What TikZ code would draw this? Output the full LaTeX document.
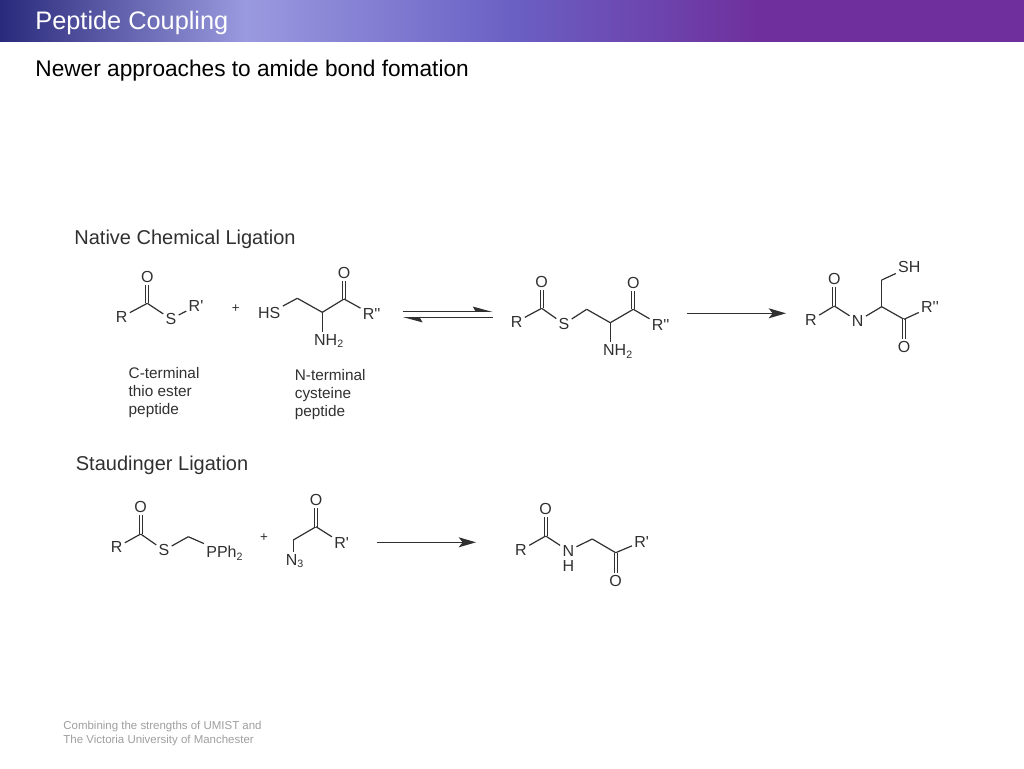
\documentclass[tikz,border=0pt]{standalone}
\usepackage{fontspec}
\newfontfamily\slidefont{Liberation Sans}
\usetikzlibrary{arrows.meta}

\definecolor{barDark}{HTML}{2A2A7C}
\definecolor{barLight}{HTML}{9A9ADF}
\definecolor{barMid}{HTML}{6A60C4}
\definecolor{barEnd}{HTML}{6F2F9C}
\definecolor{inkGray}{HTML}{303030}

\begin{document}
\begin{tikzpicture}[x=.75pt, y=-.75pt, semithick]

%====Styles=================================================================

	\tikzstyle{atom}=[font=\slidefont\fontsize{12}{14}\selectfont, inner sep=1.5pt, text=inkGray]
	\tikzstyle{heading}=[font=\slidefont\fontsize{15}{18}\selectfont, anchor=west, inner sep=0pt, text=inkGray]
	\tikzstyle{caption}=[font=\slidefont\fontsize{11.5}{13.5}\selectfont, anchor=west, align=left, inner sep=0pt, text=inkGray]
	\tikzstyle{sign}=[font=\slidefont\fontsize{10}{12}\selectfont, inner sep=0pt, text=inkGray]
	\tikzstyle{bond}=[draw=inkGray, line width=.9pt]
	\tikzstyle{dbl}=[draw=inkGray, line width=.8pt, double=white, double distance=1.6pt]
	\tikzstyle{reaction}=[draw=inkGray, line width=1pt, -{Stealth[length=13pt, width=7.5pt, inset=3pt]}]
	\tikzstyle{harpoon}=[draw=inkGray, line width=1pt, -{Stealth[harpoon, length=13pt, width=7pt, inset=2pt]}]

	\useasboundingbox (0,0) rectangle (1024,768);

%====Header bar=============================================================

	\shade[left color=barDark, right color=barLight] 	(0,0) rectangle (245.5,41.2);
	\shade[left color=barLight, right color=barMid] 	(245,0) rectangle (512.5,41.2);
	\shade[left color=barMid, right color=barEnd] 		(512,0) rectangle (762.5,41.2);
	\fill[barEnd] 										(762,0) rectangle (1024,42);

	\node[font=\slidefont\fontsize{19}{22}\selectfont, text=white, anchor=west, inner sep=0pt] 	(title) at (35,22.5) {Peptide Coupling};
	\node[font=\slidefont\fontsize{17}{20}\selectfont, text=black, anchor=west, inner sep=0pt] 	(subtitle) at (35,70.5) {Newer approaches to amide bond fomation};
	\node[font=\slidefont\fontsize{8.6}{10.5}\selectfont, text=black!38, anchor=west, align=left, inner sep=0pt] 	(footer) at (63,733.5) {Combining the strengths of UMIST and\\The Victoria University of Manchester};

%====Native Chemical Ligation================================================

	\node[heading] 	(nclTitle) at (74,239) {Native Chemical Ligation};

	% thio ester
	\coordinate 		(C1) at (147.3,303.3);
	\node[atom] 		(R1) at (121.7,317) {R};
	\node[atom] 		(O1) at (147.3,276.7) {O};
	\node[atom] 		(S1) at (171,319) {S};
	\node[atom] 		(Ra) at (196,306) {R'};
	\node[sign] 		(plusA) at (235.7,309) {+};
	\node[caption] 	(capA) at (128.3,392.2) {C-terminal\\thio ester\\peptide};

	% cysteine
	\node[atom] 		(HS2) at (269.3,313.3) {HS};
	\coordinate 		(C2) at (297.3,298.3);
	\coordinate 		(C3) at (322.3,312.3);
	\coordinate 		(C4) at (344,299);
	\node[atom] 		(O2) at (344,272.7) {O};
	\node[atom] 		(Rb) at (371.7,314.3) {R''};
	\node[atom] 		(N2) at (329,341) {NH\textsubscript{2}};
	\node[caption] 	(capB) at (294.5,394.2) {N-terminal\\cysteine\\peptide};

	% thio ester intermediate
	\node[atom] 		(R3) at (516.7,321.7) {R};
	\coordinate 		(C5) at (541.7,308.3);
	\node[atom] 		(O3) at (541.7,281.7) {O};
	\node[atom] 		(S3) at (564,324) {S};
	\coordinate 		(C6) at (586.7,309.3);
	\coordinate 		(C7) at (610.3,322.7);
	\coordinate 		(C8) at (633.3,309.3);
	\node[atom] 		(O4) at (633.3,282.7) {O};
	\node[atom] 		(Rc) at (660.7,325.3) {R''};
	\node[atom] 		(N3) at (618,351.5) {NH\textsubscript{2}};

	% amide product
	\node[atom] 		(R4) at (811,320) {R};
	\coordinate 		(C9) at (834.3,306);
	\node[atom] 		(O5) at (834.3,279.3) {O};
	\node[atom] 		(N4) at (857.7,321) {N};
	\coordinate 		(C10) at (881.7,306.7);
	\coordinate 		(C11) at (881.7,280);
	\node[atom] 		(SH4) at (909.3,267.3) {SH};
	\coordinate 		(C12) at (904,319.3);
	\node[atom] 		(O6) at (904,347.3) {O};
	\node[atom] 		(Rd) at (930,307.3) {R''};

	% arrows
	\coordinate 		(eqA) at (402.7,311.3);
	\coordinate 		(eqB) at (492.7,311.3);
	\coordinate 		(eqC) at (492.7,317.7);
	\coordinate 		(eqD) at (402.7,317.7);
	\coordinate 		(arA) at (687.3,313.3);
	\coordinate 		(arB) at (786,313.3);

	\draw[bond] (R1) -- (C1);
	\draw[dbl] 	(C1) -- (O1);
	\draw[bond] (C1) -- (S1);
	\draw[bond] (S1) -- (Ra);

	\draw[bond] (HS2) -- (C2);
	\draw[bond] (C2) -- (C3);
	\draw[bond] (C3) -- (C4);
	\draw[dbl] 	(C4) -- (O2);
	\draw[bond] (C4) -- (Rb);
	\draw[bond] (C3) -- (C3 |- N2.north);

	\draw[bond] (R3) -- (C5);
	\draw[dbl] 	(C5) -- (O3);
	\draw[bond] (C5) -- (S3);
	\draw[bond] (S3) -- (C6);
	\draw[bond] (C6) -- (C7);
	\draw[bond] (C7) -- (C8);
	\draw[dbl] 	(C8) -- (O4);
	\draw[bond] (C8) -- (Rc);
	\draw[bond] (C7) -- (C7 |- N3.north);

	\draw[bond] (R4) -- (C9);
	\draw[dbl] 	(C9) -- (O5);
	\draw[bond] (C9) -- (N4);
	\draw[bond] (N4) -- (C10);
	\draw[bond] (C10) -- (C11);
	\draw[bond] (C11) -- (SH4);
	\draw[bond] (C10) -- (C12);
	\draw[dbl] 	(C12) -- (O6);
	\draw[bond] (C12) -- (Rd);

	\draw[harpoon] 	(eqA) -- (eqB);
	\draw[harpoon] 	(eqC) -- (eqD);
	\draw[reaction] (arA) -- (arB);

%====Staudinger Ligation=====================================================

	\node[heading] 	(stTitle) at (75.5,465) {Staudinger Ligation};

	% phosphino thio ester
	\node[atom] 		(R5) at (116.7,547.3) {R};
	\coordinate 		(C13) at (140.7,534);
	\node[atom] 		(O7) at (140.7,507.3) {O};
	\node[atom] 		(S5) at (164,550.3) {S};
	\coordinate 		(C14) at (188.3,536.7);
	\node[atom, anchor=west] 	(P5) at (204,553) {PPh\textsubscript{2}};
	\node[sign] 		(plusB) at (264,537.7) {+};

	% azide
	\node[atom] 		(N5) at (295,561) {N\textsubscript{3}};
	\coordinate 		(C15) at (293.3,540);
	\coordinate 		(C16) at (316,526.7);
	\node[atom] 		(O8) at (316,500) {O};
	\node[atom] 		(Re) at (341.7,543) {R'};

	% amide product
	\node[atom] 		(R6) at (521,550) {R};
	\coordinate 		(C17) at (545.7,536);
	\node[atom] 		(O9) at (545.7,509.3) {O};
	\node[atom] 		(N6) at (568.3,550.7) {N};
	\node[atom] 		(H6) at (568.3,565.5) {H};
	\coordinate 		(C18) at (592.3,539);
	\coordinate 		(C19) at (615.7,552.7);
	\node[atom] 		(O10) at (615.7,580.7) {O};
	\node[atom] 		(Rf) at (641.7,541.7) {R'};

	% arrow
	\coordinate 		(arC) at (377.3,542.3);
	\coordinate 		(arD) at (476,542.3);

	\draw[bond] (R5) -- (C13);
	\draw[dbl] 	(C13) -- (O7);
	\draw[bond] (C13) -- (S5);
	\draw[bond] (S5) -- (C14);
	\draw[bond] (C14) -- (P5.north west);

	\draw[bond] (N5.north -| C15) -- (C15);
	\draw[bond] (C15) -- (C16);
	\draw[dbl] 	(C16) -- (O8);
	\draw[bond] (C16) -- (Re);

	\draw[bond] (R6) -- (C17);
	\draw[dbl] 	(C17) -- (O9);
	\draw[bond] (C17) -- (N6);
	\draw[bond] (N6) -- (C18);
	\draw[bond] (C18) -- (C19);
	\draw[dbl] 	(C19) -- (O10);
	\draw[bond] (C19) -- (Rf);

	\draw[reaction] (arC) -- (arD);

\end{tikzpicture}
\end{document}
